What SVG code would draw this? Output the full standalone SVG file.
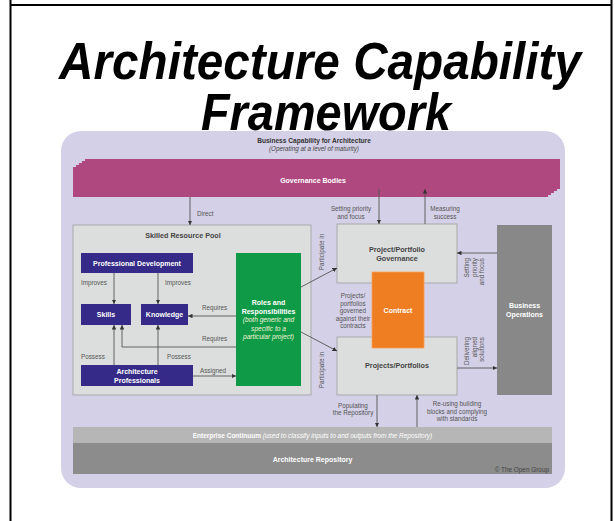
<svg xmlns="http://www.w3.org/2000/svg" width="615" height="521" viewBox="0 0 615 521">
<style>
text{font-family:"Liberation Sans",Arial,sans-serif}
.lbl{font-size:6.3px;fill:#555}
.wb{font-size:7px;font-weight:bold;fill:#fff}
.db{font-size:7.2px;font-weight:bold;fill:#444}
.ln{stroke:#555;stroke-width:0.9;fill:none}
.pur{fill:#352a87}
.gray{fill:#dcdedd;stroke:#a8a8a8;stroke-width:1}
.mag{fill:#af487f}
</style>
<defs>
<marker id="ah" viewBox="0 0 6 6" refX="6" refY="3" markerWidth="4.5" markerHeight="4.5" orient="auto" markerUnits="userSpaceOnUse">
<path d="M0,0 L6,3 L0,6 z" fill="#333"/>
</marker>
</defs>
<rect width="615" height="521" fill="#fff"/>
<g id="frame" stroke="#000" stroke-width="2">
<line x1="10.5" y1="0" x2="10.5" y2="521"/>
<line x1="611.5" y1="0" x2="611.5" y2="521"/>
<line x1="10" y1="5" x2="612" y2="5"/>
</g>
<g id="background">
<rect x="61" y="131" width="504" height="357" rx="20" fill="#d4d0e8"/>
<text x="314" y="142.5" text-anchor="middle" style="font-size:6.6px;font-weight:bold;fill:#333">Business Capability for Architecture</text>
<text x="314" y="151" text-anchor="middle" style="font-size:6.3px;font-style:italic;fill:#444">(Operating at a level of maturity)</text>
</g>
<g id="governance-bodies">
<polygon class="mag" points="73,197 73,167 76,167 76,165 79,165 79,163 82,163 82,161 85,161 85,159 560,159 560,189 557,189 557,191 554,191 554,193 551,193 551,195 548,195 548,197"/>
<text x="313" y="183" text-anchor="middle" class="wb">Governance Bodies</text>
</g>
<g id="skilled-resource-pool">
<rect x="73" y="225" width="238" height="170" class="gray"/>
<text x="183" y="238" text-anchor="middle" class="db">Skilled Resource Pool</text>
</g>
<g id="professional-development">
<rect x="81" y="253" width="112" height="20" class="pur"/>
<text x="137" y="266" text-anchor="middle" class="wb">Professional Development</text>
</g>
<g id="skills">
<rect x="81" y="304" width="50" height="21" class="pur"/>
<text x="106" y="317" text-anchor="middle" class="wb">Skills</text>
</g>
<g id="knowledge">
<rect x="141" y="304" width="47" height="21" class="pur"/>
<text x="164.5" y="317" text-anchor="middle" class="wb">Knowledge</text>
</g>
<g id="architecture-professionals">
<rect x="81" y="365" width="112" height="21" class="pur"/>
<text x="137" y="374" text-anchor="middle" class="wb">Architecture</text>
<text x="137" y="382.5" text-anchor="middle" class="wb">Professionals</text>
</g>
<g id="roles-and-responsibilities">
<rect x="236" y="253" width="65" height="133" fill="#0f9a47"/>
<text x="268.5" y="305" text-anchor="middle" class="wb">Roles and</text>
<text x="268.5" y="313.5" text-anchor="middle" class="wb">Responsibilities</text>
<text x="268.5" y="322" text-anchor="middle" style="font-size:6.6px;font-style:italic;fill:#f4f4d8">(both generic and</text>
<text x="268.5" y="330.5" text-anchor="middle" style="font-size:6.6px;font-style:italic;fill:#f4f4d8">specific to a</text>
<text x="268.5" y="339" text-anchor="middle" style="font-size:6.6px;font-style:italic;fill:#f4f4d8">particular project)</text>
</g>
<g id="project-portfolio-governance">
<rect x="337" y="224" width="120" height="59" class="gray"/>
<text x="397" y="252" text-anchor="middle" class="db">Project/Portfolio</text>
<text x="397" y="261" text-anchor="middle" class="db">Governance</text>
</g>
<g id="projects-portfolios">
<rect x="337" y="337" width="120" height="58" class="gray"/>
<text x="397" y="368" text-anchor="middle" class="db">Projects/Portfolios</text>
</g>
<g id="contract">
<rect x="372" y="272" width="52" height="76" fill="#ef7d22" stroke="#f4a060" stroke-width="0.8"/>
<text x="398" y="313" text-anchor="middle" class="wb">Contract</text>
</g>
<g id="business-operations">
<rect x="497" y="225" width="55" height="170" fill="#888"/>
<text x="524.5" y="308" text-anchor="middle" class="wb">Business</text>
<text x="524.5" y="316.5" text-anchor="middle" class="wb">Operations</text>
</g>
<g id="enterprise-continuum">
<rect x="73" y="427" width="479" height="16" fill="#b6b6b6"/>
<text x="312.5" y="438" text-anchor="middle" style="font-size:6.5px;fill:#fff"><tspan font-weight="bold">Enterprise Continuum</tspan><tspan font-style="italic"> (used to classify inputs to and outputs from the Repository)</tspan></text>
</g>
<g id="architecture-repository">
<rect x="73" y="443" width="479" height="31" fill="#8c8c8c"/>
<text x="312.5" y="462" text-anchor="middle" class="wb">Architecture Repository</text>
<text x="549" y="472" text-anchor="end" style="font-size:6.4px;fill:#444">© The Open Group</text>
</g>
<g id="connectors">
<line x1="190" y1="197" x2="190" y2="225" class="ln" marker-end="url(#ah)"/>
<line x1="379" y1="189" x2="379" y2="224" class="ln" marker-end="url(#ah)"/>
<line x1="425" y1="224" x2="425" y2="189" class="ln" marker-end="url(#ah)"/>
<line x1="114" y1="273" x2="114" y2="304" class="ln" marker-end="url(#ah)"/>
<line x1="158" y1="273" x2="158" y2="304" class="ln" marker-end="url(#ah)"/>
<line x1="236" y1="316" x2="188" y2="316" class="ln" marker-end="url(#ah)"/>
<polyline points="236,347 122,347 122,325" class="ln" marker-end="url(#ah)"/>
<line x1="114" y1="365" x2="114" y2="325" class="ln" marker-end="url(#ah)"/>
<line x1="158" y1="365" x2="158" y2="325" class="ln" marker-end="url(#ah)"/>
<line x1="193" y1="376" x2="236" y2="376" class="ln" marker-end="url(#ah)"/>
<line x1="301" y1="287" x2="337" y2="268" class="ln" marker-end="url(#ah)"/>
<line x1="301" y1="332" x2="337" y2="351" class="ln" marker-end="url(#ah)"/>
<line x1="497" y1="253" x2="457" y2="253" class="ln" marker-end="url(#ah)"/>
<line x1="457" y1="368" x2="497" y2="368" class="ln" marker-end="url(#ah)"/>
<line x1="377" y1="395" x2="377" y2="427" class="ln" marker-end="url(#ah)"/>
<line x1="417" y1="427" x2="417" y2="395" class="ln" marker-end="url(#ah)"/>
</g>
<g id="connector-labels" class="lbl">
<text x="197" y="216" class="lbl">Direct</text>
<text x="351" y="211" text-anchor="middle" class="lbl">Setting priority</text>
<text x="351" y="219" text-anchor="middle" class="lbl">and focus</text>
<text x="445" y="211" text-anchor="middle" class="lbl">Measuring</text>
<text x="445" y="219" text-anchor="middle" class="lbl">success</text>
<text x="81" y="285" class="lbl">Improves</text>
<text x="165" y="285" class="lbl">Improves</text>
<text x="202" y="310" class="lbl">Requires</text>
<text x="202" y="341" class="lbl">Requires</text>
<text x="81" y="359" class="lbl">Possess</text>
<text x="167" y="359" class="lbl">Possess</text>
<text x="200" y="373" class="lbl">Assigned</text>
<text transform="translate(324,252) rotate(-90)" text-anchor="middle" class="lbl">Participate in</text>
<text transform="translate(324,370) rotate(-90)" text-anchor="middle" class="lbl">Participate in</text>
<text x="353" y="298" text-anchor="middle" class="lbl">Projects/</text>
<text x="353" y="305.5" text-anchor="middle" class="lbl">portfolios</text>
<text x="353" y="313" text-anchor="middle" class="lbl">governed</text>
<text x="353" y="320.5" text-anchor="middle" class="lbl">against their</text>
<text x="353" y="328" text-anchor="middle" class="lbl">contracts</text>
<text transform="translate(469,258) rotate(-90)" text-anchor="end" class="lbl">Setting</text>
<text transform="translate(476.5,258) rotate(-90)" text-anchor="end" class="lbl">priority</text>
<text transform="translate(484,258) rotate(-90)" text-anchor="end" class="lbl">and focus</text>
<text transform="translate(469,337) rotate(-90)" text-anchor="end" class="lbl">Delivering</text>
<text transform="translate(476.5,337) rotate(-90)" text-anchor="end" class="lbl">aligned</text>
<text transform="translate(484,337) rotate(-90)" text-anchor="end" class="lbl">solutions</text>
<text x="353" y="408" text-anchor="middle" class="lbl">Populating</text>
<text x="353" y="415" text-anchor="middle" class="lbl">the Repository</text>
<text x="457" y="406" text-anchor="middle" class="lbl">Re-using building</text>
<text x="457" y="413.5" text-anchor="middle" class="lbl">blocks and complying</text>
<text x="457" y="421" text-anchor="middle" class="lbl">with standards</text>
</g>
<g id="title" style="font-weight:bold;font-style:italic;fill:#000">
<text x="320" y="79" text-anchor="middle" font-size="52" textLength="522" lengthAdjust="spacingAndGlyphs">Architecture Capability</text>
<text x="326" y="129.5" text-anchor="middle" font-size="52" textLength="250" lengthAdjust="spacingAndGlyphs">Framework</text>
</g>
</svg>
